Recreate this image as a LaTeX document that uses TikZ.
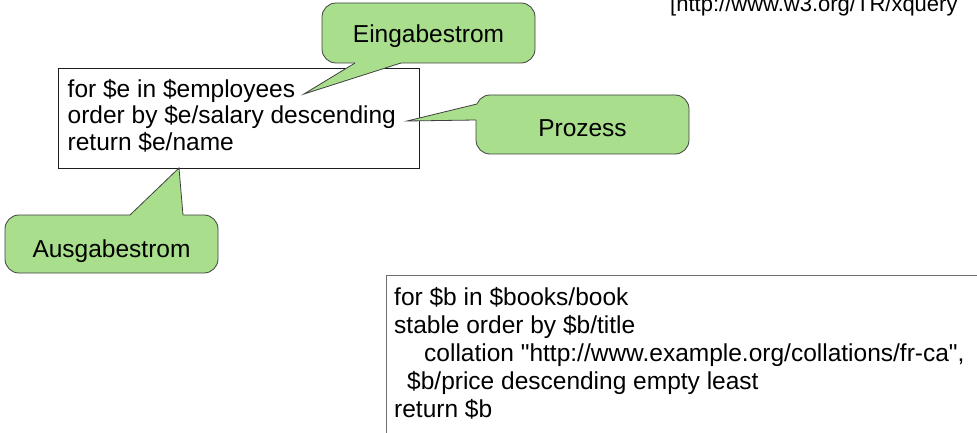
\documentclass[tikz,border=0pt]{standalone}
\usepackage{fontspec}
\setmainfont{Liberation Sans}
\definecolor{bubblefill}{RGB}{169,223,140}
\definecolor{bubbleline}{RGB}{64,64,64}
\definecolor{frameline}{RGB}{30,30,30}
\definecolor{sortframe}{RGB}{110,110,110}
\begin{document}
\begin{tikzpicture}[x=1pt,y=-1pt,
  bubble/.style={fill=bubblefill, draw=bubbleline, line width=0.8pt,
    rounded corners=14pt, inner sep=0pt},
  bubbletext/.style={anchor=base, inner sep=0pt, font=\fontsize{24.5}{28}\selectfont},
  pointerline/.style={draw=bubbleline, line width=0.8pt, line join=miter},
  codeframe/.style={draw=frameline, line width=0.8pt, fill=white, inner sep=0pt,
    anchor=north west},
  codeline/.style={anchor=base west, inner sep=0pt, font=\fontsize{24.5}{28}\selectfont},
  srcnote/.style={anchor=base west, inner sep=0pt, font=\fontsize{22}{26}\selectfont}
]
\useasboundingbox (0,0) rectangle (977,433);

% source reference, top right (runs off the page edge)
\node[srcnote] (src) at (670,11.5) {[http://www.w3.org/TR/xquery};

% first FLWOR expression
\node[codeframe, minimum width=361pt, minimum height=100pt] (qbox) at (58,68) {};
\node[codeline] (q1) at (67.5,98) {for \$e in \$employees};
\node[codeline] (q2) at (67.5,124) {order by \$e/salary descending};
\node[codeline] (q3) at (67.5,150) {return \$e/name};

% second FLWOR expression
\node[codeframe, draw=sortframe, line width=1.4pt, minimum width=700pt,
  minimum height=300pt] (sbox) at (386,275) {};
\node[codeline] (s1) at (394,305) {for \$b in \$books/book};
\node[codeline] (s2) at (394,333) {stable order by \$b/title};
\node[codeline] (s3) at (424,361) {collation \textquotedbl http://www.example.org/collations/fr-ca\textquotedbl,};
\node[codeline] (s4) at (407,389) {\$b/price descending empty least};
\node[codeline] (s5) at (394,417) {return \$b};

% callout: input stream
\node[bubble, minimum width=213pt, minimum height=60pt] (ein) at (428.5,33) {};
\coordinate (einA) at (355,63);
\coordinate (einB) at (401,63);
\coordinate (einAi) at (355,61);
\coordinate (einBi) at (401,61);
\coordinate (einTip) at (304,94);
\fill[bubblefill] (einAi) -- (einA) -- (einTip) -- (einB) -- (einBi) -- cycle;
\draw[pointerline] (einA) -- (einTip) -- (einB);
\node[bubbletext] (eintext) at (428.5,43) {Eingabestrom};

% callout: process
\node[bubble, minimum width=213pt, minimum height=59pt] (proz) at (582.5,124.5) {};
\coordinate (prozA) at (477,104);
\coordinate (prozB) at (476,120);
\coordinate (prozAi) at (479,104);
\coordinate (prozBi) at (479,120);
\coordinate (prozTip) at (407,121);
\fill[bubblefill] (prozAi) -- (prozA) -- (prozTip) -- (prozB) -- (prozBi) -- cycle;
\draw[pointerline] (prozA) -- (prozTip) -- (prozB);
\node[bubbletext] (proztext) at (582.5,136) {Prozess};

% callout: output stream
\node[bubble, minimum width=213pt, minimum height=58pt] (aus) at (111.5,244) {};
\coordinate (ausA) at (130,215);
\coordinate (ausB) at (183,215);
\coordinate (ausAi) at (130,217);
\coordinate (ausBi) at (183,217);
\coordinate (ausTip) at (179,168);
\fill[bubblefill] (ausAi) -- (ausA) -- (ausTip) -- (ausB) -- (ausBi) -- cycle;
\draw[pointerline] (ausA) -- (ausTip) -- (ausB);
\node[bubbletext] (austext) at (111.5,257) {Ausgabestrom};
\end{tikzpicture}
\end{document}
